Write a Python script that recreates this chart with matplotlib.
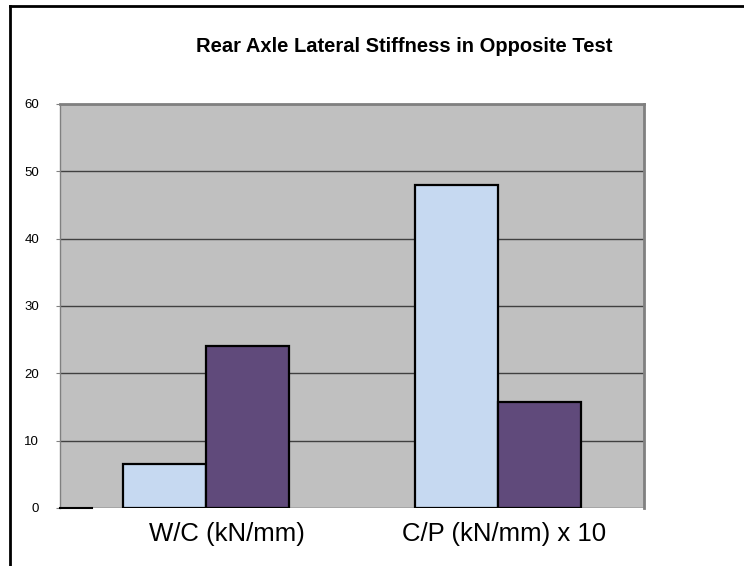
import matplotlib
matplotlib.use('Agg')
import matplotlib.pyplot as plt
from matplotlib.lines import Line2D
import numpy as np

plt.rcParams['font.family'] = ['Liberation Sans', 'DejaVu Sans']

TITLE = 'Rear Axle Lateral Stiffness in Opposite Test'
categories = ['W/C (kN/mm)', 'C/P (kN/mm) x 10']
series_a = [6.5, 48.0]    # light blue
series_b = [24.0, 15.8]   # purple
y_ticks = [0, 10, 20, 30, 40, 50, 60]

fig = plt.figure(figsize=(7.44, 5.66), dpi=100)
ax = fig.add_axes([60 / 744, 58 / 566, 584 / 744, 404 / 566])
ax.set_facecolor('#C0C0C0')

positions = np.arange(len(categories))
width = 0.285
ax.bar(positions - width / 2, series_a, width, color='#C6D9F1',
       edgecolor='black', linewidth=1.6, zorder=3)
ax.bar(positions + width / 2, series_b, width, color='#604A7B',
       edgecolor='black', linewidth=1.6, zorder=3)

ax.set_xlim(-0.5, 1.5)
ax.set_ylim(0, 60)
ax.set_yticks(y_ticks)
ax.yaxis.grid(True, color='#404040', linewidth=1.0, zorder=1)
ax.set_axisbelow(True)
ax.tick_params(axis='y', length=3, width=0.8, color='#808080', pad=12,
               labelsize=9.5)

# category labels sit a little right of the bar groups
ax.set_xticks(positions + np.array([0.072, 0.02]))
ax.set_xticklabels(categories, fontsize=18.5)
ax.tick_params(axis='x', length=0, pad=10)

for side in ('top', 'right'):
    ax.spines[side].set_color('#808080')
    ax.spines[side].set_linewidth(2)
ax.spines['left'].set_color('#808080')
ax.spines['left'].set_linewidth(1)
ax.spines['bottom'].set_visible(False)

# short black stub on the zero line at the far left
ax.axhline(0, xmin=0, xmax=32 / 584, color='black', linewidth=1.5,
           zorder=4, clip_on=False)

fig.text(404 / 744, 1 - 52 / 566, TITLE, ha='center', va='baseline',
         fontsize=14.5, fontweight='bold')

# outer chart frame (left and top edges visible)
fig.add_artist(Line2D([9.5 / 744, 9.5 / 744], [0, 1 - 6 / 566],
                      color='black', linewidth=2))
fig.add_artist(Line2D([9.5 / 744, 1], [1 - 6 / 566, 1 - 6 / 566],
                      color='black', linewidth=2))

fig.savefig('out.png', dpi=100)
